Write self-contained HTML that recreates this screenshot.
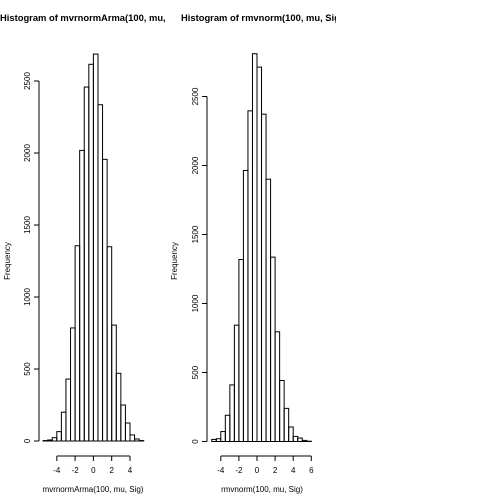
<!DOCTYPE html>
<html><head><meta charset="utf-8"><style>
html,body{margin:0;padding:0;background:#fff;}
svg{display:block;font-family:"Liberation Sans",Arial,sans-serif;}
</style></head><body>
<svg id="chart" width="504" height="504" viewBox="0 0 504 504">
<defs>
<clipPath id="c1"><rect x="0" y="0" width="168" height="504"/></clipPath>
<clipPath id="c2"><rect x="168" y="0" width="168" height="504"/></clipPath>
</defs>
<rect width="504" height="504" fill="#fff"/>
<g id="p1" clip-path="url(#c1)"></g>
<g id="p2" clip-path="url(#c2)"></g>
</svg>
<script>
const leftBreakStart = -5.5;
const leftCounts = [3, 7, 23, 65, 200, 430, 785, 1356, 2018, 2458, 2616, 2687, 2335, 1956, 1349, 805, 470, 250, 125, 42, 14, 3];
const rightBreakStart = -5;
const rightCounts = [15, 20, 72, 190, 410, 843, 1319, 1964, 2396, 2810, 2713, 2372, 1901, 1336, 795, 442, 240, 105, 37, 25, 8, 2];
const binWidth = 0.5;
const yTicks = [0, 500, 1000, 1500, 2000, 2500];
const leftXTicks = [-4, -2, 0, 2, 4];
const rightXTicks = [-4, -2, 0, 2, 4, 6];

const NS = "http://www.w3.org/2000/svg";
function mk(tag, attrs, parent){const e=document.createElementNS(NS,tag);for(const k in attrs)e.setAttribute(k,attrs[k]);parent.appendChild(e);return e;}

function drawPanel(g, cfg){
  const xs = v => cfg.x0 + v*cfg.xk;
  const ys = v => cfg.y0 - v*cfg.yk;
  const t = mk('text',{x:cfg.titleX,y:21,'font-size':'9.4','font-weight':'bold','text-anchor':'start'},g);
  t.textContent = cfg.title;
  
  
  cfg.counts.forEach((c,i)=>{
    const a = cfg.start + i*binWidth;
    const r = mk('rect',{x:xs(a),y:ys(c),width:binWidth*cfg.xk,height:c*cfg.yk,fill:'none',stroke:'#000','stroke-width':'1'},g);
    
    
  });
  const ya = mk('line',{x1:cfg.yAxisX,x2:cfg.yAxisX,y1:ys(yTicks[0]),y2:ys(yTicks[yTicks.length-1]),stroke:'#000'},g);
  
  
  yTicks.forEach(v=>{
    mk('line',{x1:cfg.yAxisX-5,x2:cfg.yAxisX,y1:ys(v),y2:ys(v),stroke:'#000'},g);
    const tx = mk('text',{x:cfg.yAxisX-9,y:ys(v),'font-size':'8','text-anchor':'middle',transform:`rotate(-90 ${cfg.yAxisX-9} ${ys(v)})`},g);
    tx.textContent = v;
    
    
  });
  const xt = cfg.xTicks;
  const xa = mk('line',{x1:xs(xt[0]),x2:xs(xt[xt.length-1]),y1:456,y2:456,stroke:'#000'},g);
  
  
  xt.forEach(v=>{
    mk('line',{x1:xs(v),x2:xs(v),y1:456,y2:461,stroke:'#000'},g);
    const tx = mk('text',{x:xs(v),y:473,'font-size':'8','text-anchor':'middle'},g);
    tx.textContent = v;
    
    
  });
  const xl = mk('text',{x:cfg.xLabelX,y:492,'font-size':'8','text-anchor':'middle'},g);
  xl.textContent = cfg.xLabel;
  
  
  const fy = 261;
  const yl = mk('text',{x:cfg.freqX,y:fy,'font-size':'8','text-anchor':'middle',transform:`rotate(-90 ${cfg.freqX} ${fy})`},g);
  yl.textContent = 'Frequency';
  
  
}
drawPanel(document.getElementById('p1'),{x0:93.4,xk:9.15,y0:441,yk:0.144,start:leftBreakStart,counts:leftCounts,
  title:'Histogram of mvrnormArma(100, mu, Sig)',titleX:0,yAxisX:39,xTicks:leftXTicks,xLabel:'mvrnormArma(100, mu, Sig)',xLabelX:93,freqX:10});
drawPanel(document.getElementById('p2'),{x0:257,xk:9.05,y0:441.5,yk:0.138,start:rightBreakStart,counts:rightCounts,
  title:'Histogram of rmvnorm(100, mu, Sig)',titleX:181,yAxisX:207,xTicks:rightXTicks,xLabel:'rmvnorm(100, mu, Sig)',xLabelX:262,freqX:177});
</script>
</body></html>
